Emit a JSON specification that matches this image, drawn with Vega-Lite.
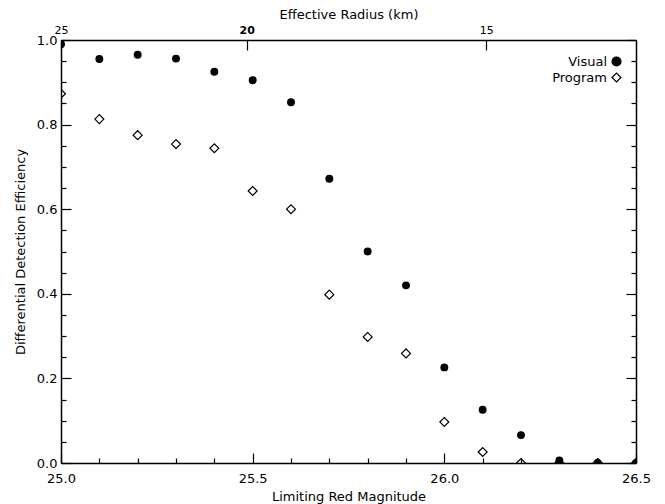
{
  "$schema": "https://vega.github.io/schema/vega-lite/v6.json",
  "width": 575,
  "height": 423,
  "autosize": "none",
  "padding": {"left": 61, "top": 40, "right": 29, "bottom": 41},
  "background": "white",
  "config": {
    "view": {"stroke": null},
    "font": "DejaVu Sans",
    "axis": {
      "domainColor": "black", "domainWidth": 1.5,
      "tickColor": "black", "tickWidth": 1.2,
      "labelColor": "black", "labelFont": "DejaVu Sans", "labelFontSize": 13,
      "titleFont": "DejaVu Sans", "titleFontSize": 13, "titleFontWeight": "normal", "titleColor": "black",
      "grid": false
    },
    "legend": {
      "orient": "none", "legendX": 549, "legendY": 15, "title": null,
      "labelAlign": "right", "labelOffset": -16, "symbolSize": 80,
      "symbolStrokeWidth": 1.2, "symbolStrokeColor": "black",
      "labelFontSize": 13, "labelFont": "DejaVu Sans", "labelColor": "black",
      "padding": 0, "rowPadding": 1
    }
  },
  "data": {
    "values": [
      {"mag": 25.0, "eff": 0.99, "series": "Visual"},
      {"mag": 25.1, "eff": 0.955, "series": "Visual"},
      {"mag": 25.2, "eff": 0.965, "series": "Visual"},
      {"mag": 25.3, "eff": 0.956, "series": "Visual"},
      {"mag": 25.4, "eff": 0.925, "series": "Visual"},
      {"mag": 25.5, "eff": 0.905, "series": "Visual"},
      {"mag": 25.6, "eff": 0.853, "series": "Visual"},
      {"mag": 25.7, "eff": 0.672, "series": "Visual"},
      {"mag": 25.8, "eff": 0.50, "series": "Visual"},
      {"mag": 25.9, "eff": 0.42, "series": "Visual"},
      {"mag": 26.0, "eff": 0.226, "series": "Visual"},
      {"mag": 26.1, "eff": 0.126, "series": "Visual"},
      {"mag": 26.2, "eff": 0.066, "series": "Visual"},
      {"mag": 26.3, "eff": 0.006, "series": "Visual"},
      {"mag": 26.4, "eff": 0.0, "series": "Visual"},
      {"mag": 26.5, "eff": 0.0, "series": "Visual"},
      {"mag": 25.0, "eff": 0.873, "series": "Program"},
      {"mag": 25.1, "eff": 0.813, "series": "Program"},
      {"mag": 25.2, "eff": 0.775, "series": "Program"},
      {"mag": 25.3, "eff": 0.754, "series": "Program"},
      {"mag": 25.4, "eff": 0.744, "series": "Program"},
      {"mag": 25.5, "eff": 0.643, "series": "Program"},
      {"mag": 25.6, "eff": 0.60, "series": "Program"},
      {"mag": 25.7, "eff": 0.398, "series": "Program"},
      {"mag": 25.8, "eff": 0.298, "series": "Program"},
      {"mag": 25.9, "eff": 0.259, "series": "Program"},
      {"mag": 26.0, "eff": 0.097, "series": "Program"},
      {"mag": 26.1, "eff": 0.026, "series": "Program"},
      {"mag": 26.2, "eff": 0.0, "series": "Program"},
      {"mag": 26.3, "eff": 0.0, "series": "Program"},
      {"mag": 26.4, "eff": 0.0, "series": "Program"},
      {"mag": 26.5, "eff": 0.0, "series": "Program"}
    ]
  },
  "layer": [
    {
      "transform": [{"filter": "datum.series == 'Visual'"}],
      "mark": {"type": "point", "filled": false, "clip": true, "strokeWidth": 1.2, "opacity": 1, "size": 45},
      "encoding": {
        "x": {
          "field": "mag", "type": "quantitative",
          "scale": {"domain": [25, 26.5], "nice": false, "zero": false},
          "axis": {
            "orient": "bottom", "title": "Limiting Red Magnitude",
            "values": [25.0, 25.1, 25.2, 25.3, 25.4, 25.5, 25.6, 25.7, 25.8, 25.9, 26.0, 26.1, 26.2, 26.3, 26.4, 26.5],
            "labelExpr": "round(datum.value*10)%5==0 ? format(datum.value,'.1f') : ''",
            "tickSize": {"condition": {"test": "round(datum.value*10)%5==0", "value": -10}, "value": -5},
            "labelPadding": 19, "titlePadding": 5, "labelFlush": false
          }
        },
        "y": {
          "field": "eff", "type": "quantitative",
          "scale": {"domain": [0, 1], "nice": false, "zero": false},
          "axis": {
            "orient": "left", "title": "Differential Detection Efficiency",
            "values": [0, 0.05, 0.1, 0.15, 0.2, 0.25, 0.3, 0.35, 0.4, 0.45, 0.5, 0.55, 0.6, 0.65, 0.7, 0.75, 0.8, 0.85, 0.9, 0.95, 1.0],
            "labelExpr": "round(datum.value*100)%20==0 ? format(datum.value,'.1f') : ''",
            "tickSize": {"condition": {"test": "round(datum.value*100)%20==0", "value": -10}, "value": -5},
            "labelPadding": 14, "titlePadding": 9, "labelFlush": false
          }
        },
        "shape": {
          "field": "series", "type": "nominal",
          "scale": {"domain": ["Visual", "Program"], "range": ["circle", "diamond"]}
        },
        "fill": {
          "field": "series", "type": "nominal",
          "scale": {"domain": ["Visual", "Program"], "range": ["black", "transparent"]}
        },
        "stroke": {
          "field": "series", "type": "nominal",
          "scale": {"domain": ["Visual", "Program"], "range": ["black", "black"]}
        }
      }
    },
    {
      "transform": [{"filter": "datum.series == 'Program'"}],
      "mark": {"type": "point", "filled": false, "clip": true, "strokeWidth": 1.2, "opacity": 1, "size": 80},
      "encoding": {
        "x": {"field": "mag", "type": "quantitative", "axis": null},
        "y": {"field": "eff", "type": "quantitative", "axis": null},
        "shape": {"field": "series", "type": "nominal"},
        "fill": {"field": "series", "type": "nominal"},
        "stroke": {"field": "series", "type": "nominal"}
      }
    },
    {
      "mark": {"type": "point", "opacity": 0},
      "encoding": {
        "x": {
          "field": "mag", "type": "quantitative",
          "axis": {
            "orient": "top", "title": "Effective Radius (km)",
            "values": [25.0, 25.4846, 26.1093],
            "labelExpr": "datum.value < 25.1 ? '25' : (datum.value < 25.8 ? '20' : '15')",
            "labelFontWeight": {"condition": {"test": "datum.value > 25.1 && datum.value < 25.8", "value": "bold"}, "value": "normal"},
            "labelFontSize": 11,
            "tickSize": -10,
            "labelPadding": 15, "titlePadding": 3, "labelFlush": false
          }
        },
        "y": {
          "field": "eff", "type": "quantitative",
          "axis": {
            "orient": "right", "title": null, "labels": false,
            "values": [0, 0.05, 0.1, 0.15, 0.2, 0.25, 0.3, 0.35, 0.4, 0.45, 0.5, 0.55, 0.6, 0.65, 0.7, 0.75, 0.8, 0.85, 0.9, 0.95, 1.0],
            "tickSize": {"condition": {"test": "round(datum.value*100)%20==0", "value": -10}, "value": -5}
          }
        }
      }
    }
  ],
  "resolve": {"axis": {"x": "independent", "y": "independent"}}
}
